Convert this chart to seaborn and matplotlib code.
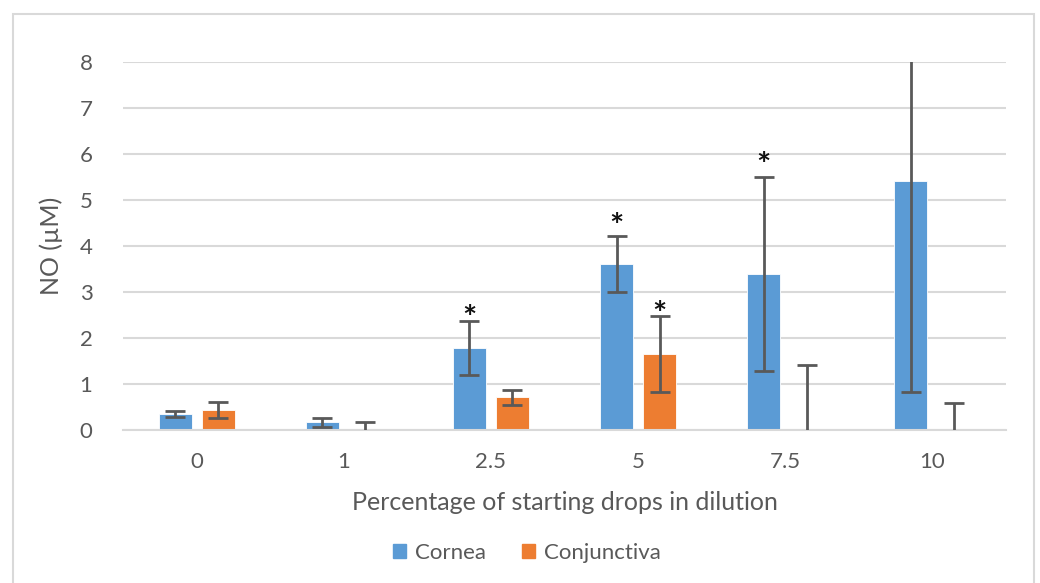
import matplotlib
matplotlib.use("Agg")
import matplotlib.pyplot as plt
from matplotlib.patches import Rectangle
import numpy as np
import pandas as pd
import seaborn as sns

# Nitric oxide release by dilution of starting drops
dilutions = ["0", "1", "2.5", "5", "7.5", "10"]
cornea_mean = [0.33, 0.16, 1.77, 3.59, 3.39, 5.41]
cornea_err = [0.065, 0.095, 0.58, 0.61, 2.11, 4.59]
conj_mean = [0.42, 0.0, 0.70, 1.64, 0.0, 0.0]
conj_err = [0.18, 0.17, 0.17, 0.835, 1.40, 0.57]
# significance marks: (dilution index, tissue, y position of the asterisk centre)
stars = [(2, "Cornea", 2.6), (3, "Cornea", 4.6), (3, "Conjunctiva", 2.69), (4, "Cornea", 5.93)]

tissues = ["Cornea", "Conjunctiva"]
colors = {"Cornea": "#5B9BD5", "Conjunctiva": "#ED7D31"}

df = pd.DataFrame({
    "dilution": dilutions * 2,
    "tissue": ["Cornea"] * len(dilutions) + ["Conjunctiva"] * len(dilutions),
    "no": cornea_mean + conj_mean,
    "err": cornea_err + conj_err,
})

sns.set_theme(style="white")
plt.rcParams["font.family"] = ["Lato", "DejaVu Sans"]

fig = plt.figure(figsize=(10.4, 5.83), dpi=100)
ax = fig.add_axes([123 / 1040, 1 - 429.5 / 583, (1006 - 123) / 1040, (429.5 - 61.7) / 583])

sns.barplot(data=df, x="dilution", y="no", hue="tissue", order=dilutions,
            hue_order=tissues, palette=colors, width=0.585, gap=0.234,
            errorbar=None, ax=ax, legend=False, saturation=1,
            edgecolor="#ffffff", linewidth=0.6, zorder=2)

# error bars and asterisks placed at the bar centres
for tissue, container in zip(tissues, ax.containers):
    sub = df[df.tissue == tissue].set_index("dilution").loc[dilutions]
    xs = [p.get_x() + p.get_width() / 2 for p in container.patches]
    ax.errorbar(xs, sub["no"].values, yerr=sub["err"].values, fmt="none",
                ecolor="#595959", elinewidth=2, capsize=7, capthick=2, zorder=3)
    for idx, t, ys in stars:
        if t == tissue:
            ax.text(xs[idx], ys - 0.2, "*", ha="center", va="center", fontsize=24,
                    fontweight="bold", color="#111111", zorder=4)

ax.set_ylim(0, 8)
ax.set_xlim(-0.5, len(dilutions) - 0.5)
ax.set_yticks(range(0, 9))
ax.yaxis.grid(True, color="#D9D9D9", linewidth=1.5, zorder=0)
ax.set_axisbelow(True)
for s in ["top", "right", "left"]:
    ax.spines[s].set_visible(False)
ax.spines["bottom"].set_color("#D9D9D9")
ax.spines["bottom"].set_linewidth(1.5)
ax.tick_params(axis="both", length=0, labelsize=16, labelcolor="#595959")
ax.tick_params(axis="y", pad=22)
ax.tick_params(axis="x", pad=16)
ax.set_xlabel("Percentage of starting drops in dilution", fontsize=18,
              color="#595959", labelpad=14)
ax.set_ylabel("NO (\u00b5M)", fontsize=18, color="#595959", labelpad=12)

handles = [Rectangle((0, 0), 1, 1, color=colors[t]) for t in tissues]
fig.legend(handles, tissues, loc="center", bbox_to_anchor=(527 / 1040, 1 - 553 / 583),
           ncol=2, frameon=False, fontsize=16, handlelength=0.6, handleheight=0.6,
           handletextpad=0.4, columnspacing=1.6, labelcolor="#595959")

fig.patches.append(Rectangle((13 / 1040, -0.01), (1034 - 13) / 1040, 1 - 14 / 583 + 0.01,
                             transform=fig.transFigure, fill=False,
                             edgecolor="#D9D9D9", linewidth=1.5))

fig.savefig("out.png", dpi=100)
